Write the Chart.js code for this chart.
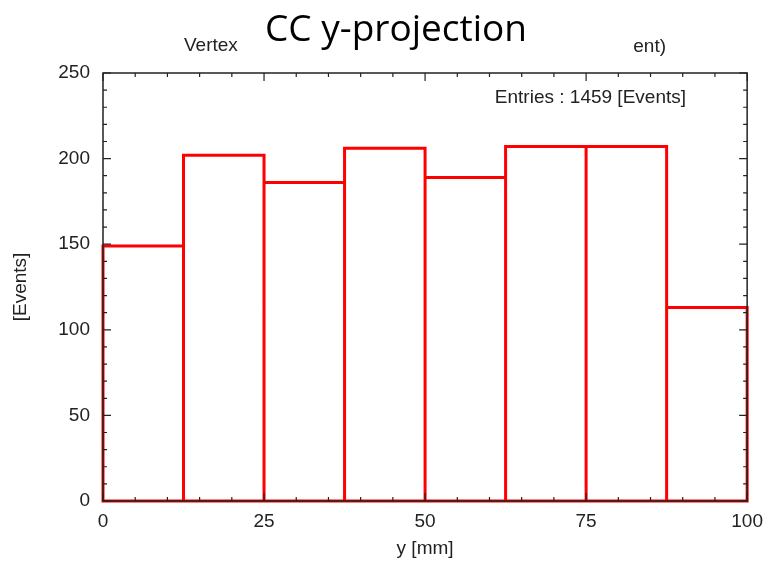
<!DOCTYPE html>
<html><head><meta charset="utf-8">
<script src="https://cdn.jsdelivr.net/npm/chart.js@4"></script>
<style>html,body{margin:0;padding:0;background:#fff;overflow:hidden}#c{display:block}</style>
</head><body>
<canvas id="c" width="772" height="565"></canvas>
<script>
// ---- data ----
const binEdges = [0, 12.5, 25, 37.5, 50, 62.5, 75, 87.5, 100];
const counts = [149, 202, 186, 206, 189, 207, 207, 113];
const xTickLabels = [0, 25, 50, 75, 100];
const yTickLabels = [0, 50, 100, 150, 200, 250];
const titleText = 'CC y-projection';
const subLeftText = 'Vertex';
const subRightText = 'ent)';
const entriesText = 'Entries : 1459 [Events]';
const xTitleText = 'y [mm]';
const yTitleText = '[Events]';

const AREA = {left: 103, right: 748, top: 73, bottom: 501};
const W = 772, H = 565;
const textFont = '"Liberation Sans", Arial, Helvetica, sans-serif';

// histogram outline (each bin drawn as a box) built from edges and counts
const outline = [];
counts.forEach((c, i) => {
  outline.push({x: binEdges[i], y: 0}, {x: binEdges[i], y: c},
               {x: binEdges[i + 1], y: c}, {x: binEdges[i + 1], y: 0});
});
outline.push({x: binEdges[0], y: 0});

const framePlugin = {
  id: 'frame',
  afterDatasetsDraw(chart) {
    const {ctx, chartArea: a, scales: {x, y}} = chart;
    ctx.save();
    ctx.strokeStyle = '#222';
    ctx.lineWidth = 1.5;
    ctx.strokeRect(a.left, a.top, a.right - a.left, a.bottom - a.top);
    ctx.lineWidth = 1.2;
    ctx.beginPath();
    for (let v = 0; v <= 100; v += 5) {
      const len = (v % 25 === 0) ? 8 : 4;
      const px = x.getPixelForValue(v);
      ctx.moveTo(px, a.bottom); ctx.lineTo(px, a.bottom - len);
      ctx.moveTo(px, a.top); ctx.lineTo(px, a.top + len);
    }
    for (let v = 0; v <= 250; v += 10) {
      const len = (v % 50 === 0) ? 8 : 4;
      const py = y.getPixelForValue(v);
      ctx.moveTo(a.left, py); ctx.lineTo(a.left + len, py);
      ctx.moveTo(a.right, py); ctx.lineTo(a.right - len, py);
    }
    ctx.stroke();
    ctx.fillStyle = '#222';
    ctx.font = '19px ' + textFont;
    ctx.textAlign = 'right';
    ctx.textBaseline = 'alphabetic';
    ctx.fillText(entriesText, 686, 103);
    ctx.restore();
  },
  afterDraw(chart) {
    const {ctx} = chart;
    ctx.save();
    ctx.fillStyle = '#222';
    ctx.font = '19px ' + textFont;
    ctx.textBaseline = 'alphabetic';
    ctx.textAlign = 'left';
    ctx.fillText(subLeftText, 184, 51);
    ctx.textAlign = 'right';
    ctx.fillText(subRightText, 666, 52);
    ctx.fillStyle = '#000';
    ctx.font = '37px "Open Sans", "Noto Sans", sans-serif';
    ctx.textAlign = 'center';
    ctx.fillText(titleText, 396, 41);
    ctx.restore();
  }
};

new Chart(document.getElementById('c'), {
  type: 'scatter',
  data: {
    datasets: [{
      data: outline,
      showLine: true,
      clip: false,
      borderColor: '#ff0000',
      backgroundColor: '#ff0000',
      borderWidth: 3,
      borderJoinStyle: 'miter',
      borderCapStyle: 'square',
      pointRadius: 0,
      pointHoverRadius: 0,
      tension: 0,
      fill: false
    }]
  },
  options: {
    responsive: false,
    animation: false,
    devicePixelRatio: 1,
    layout: {padding: {left: 0, top: AREA.top, right: W - AREA.right, bottom: 0}},
    plugins: {legend: {display: false}, tooltip: {enabled: false}, title: {display: false}},
    scales: {
      x: {
        type: 'linear', min: 0, max: 100, offset: false,
        afterBuildTicks(s) { s.ticks = xTickLabels.map(v => ({value: v})); },
        afterFit(s) { s.height = H - AREA.bottom; },
        grid: {display: true, drawOnChartArea: false, drawTicks: false},
        border: {display: false},
        ticks: {color: '#222', font: {size: 19, family: textFont}, padding: 9, maxRotation: 0},
        title: {display: true, text: xTitleText, color: '#222', font: {size: 19, family: textFont}, padding: {top: 0, bottom: 5}}
      },
      y: {
        type: 'linear', min: 0, max: 250,
        afterBuildTicks(s) { s.ticks = yTickLabels.map(v => ({value: v})); },
        afterFit(s) { s.width = AREA.left; },
        grid: {display: true, drawOnChartArea: false, drawTicks: false},
        border: {display: false},
        ticks: {color: '#222', font: {size: 19, family: textFont}, padding: 13},
        title: {display: true, text: yTitleText, color: '#222', font: {size: 19, family: textFont}, padding: {top: 9, bottom: 0}}
      }
    }
  },
  plugins: [framePlugin]
});
</script>
</body></html>
